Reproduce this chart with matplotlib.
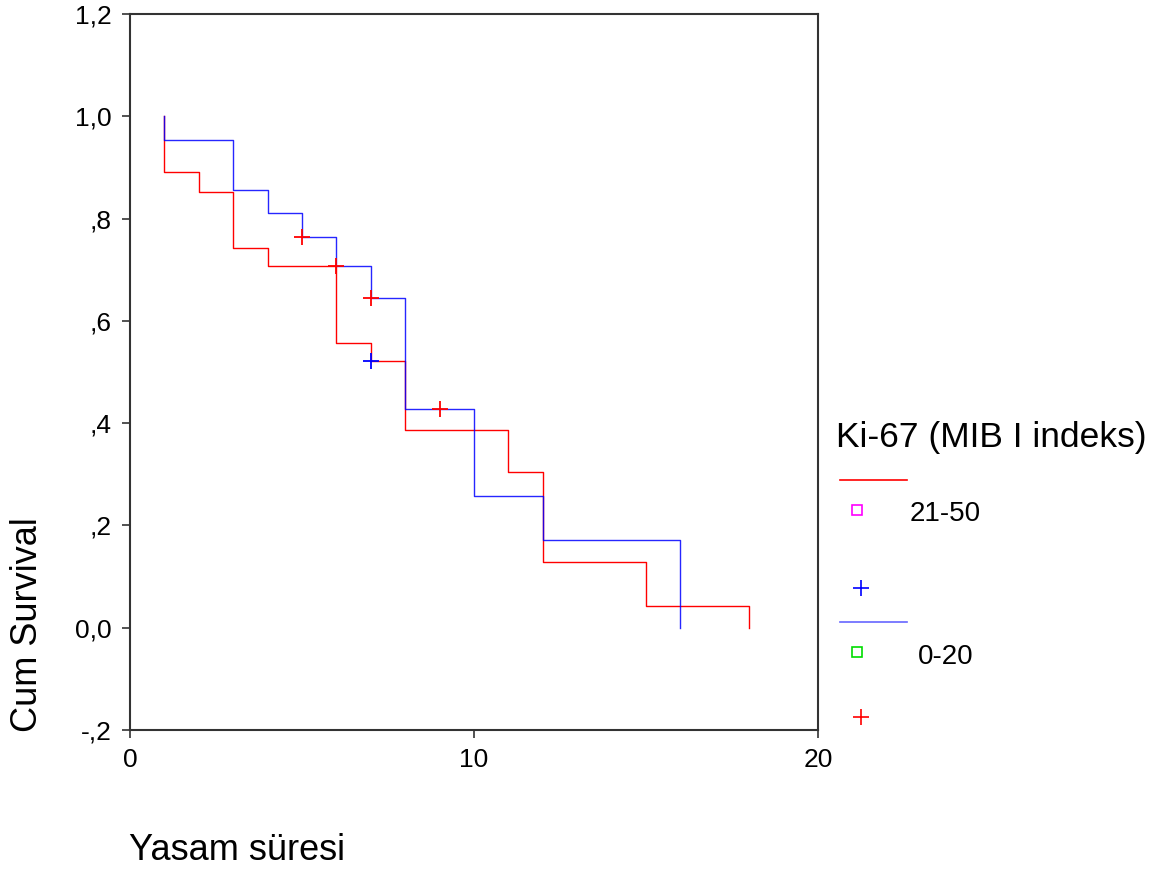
import matplotlib
matplotlib.use("Agg")
import matplotlib.pyplot as plt
from matplotlib.lines import Line2D

plt.rcParams['font.family'] = ['Liberation Sans', 'DejaVu Sans']

# Kaplan-Meier step data
t_hi = [1, 1, 2, 3, 4, 6, 7, 8, 11, 12, 15, 18]          # Ki-67 21-50
s_hi = [1.0, 0.892, 0.851, 0.743, 0.708, 0.557, 0.521, 0.386, 0.304, 0.128, 0.042, 0.0]
t_lo = [1, 1, 3, 4, 5, 6, 7, 8, 10, 12, 16]               # Ki-67 0-20
s_lo = [1.0, 0.953, 0.855, 0.810, 0.763, 0.708, 0.645, 0.427, 0.257, 0.171, 0.0]

# censored observations
cens_hi_t = [7]
cens_hi_s = [0.521]
cens_lo_t = [5, 6, 7, 9]
cens_lo_s = [0.763, 0.708, 0.645, 0.427]

xticks = [0, 10, 20]
yticks = [-0.2, 0.0, 0.2, 0.4, 0.6, 0.8, 1.0, 1.2]
ytick_labels = ['-,2', '0,0', ',2', ',4', ',6', ',8', '1,0', '1,2']

W, H = 1165, 876
fig = plt.figure(figsize=(W / 100, H / 100), dpi=100)
ax = fig.add_axes([130 / W, 1 - 730 / H, (818 - 130) / W, (730 - 14) / H])

ax.step(t_hi, s_hi, where='post', color='#ff0000', lw=1.0)
ax.step(t_lo, s_lo, where='post', color='#0000ff', lw=1.0, alpha=0.85)
ax.plot(cens_hi_t, cens_hi_s, ls='none', marker='+', ms=12, mew=1.3, color='#0000ff')
ax.plot(cens_lo_t, cens_lo_s, ls='none', marker='+', ms=12, mew=1.3, color='#ff0000')

ax.set_xlim(0, 20)
ax.set_ylim(-0.2, 1.2)
ax.set_xticks(xticks)
ax.set_yticks(yticks)
ax.set_yticklabels(ytick_labels)
ax.tick_params(axis='both', labelsize=19, color='#333333', length=6, width=1.2)
ax.tick_params(axis='y', pad=7)
ax.tick_params(axis='x', pad=7)
for sp in ax.spines.values():
    sp.set_color('#333333')
    sp.set_linewidth(1.5)

fig.text(28 / W, 1 - 625 / H, 'Cum Survival', rotation=90, fontsize=26,
         ha='center', va='center')
fig.text(129 / W, 1 - 850 / H, 'Yasam süresi', fontsize=26, ha='left', va='center')

# Legend (drawn manually)
def fx(px):
    return px / W

def fy(py):
    return 1 - py / H

fig.text(fx(836), fy(438), 'Ki-67 (MIB I indeks)', fontsize=25.5, ha='left', va='center')
fig.add_artist(Line2D([fx(840), fx(907)], [fy(480), fy(480)], color='#ff0000', lw=1.2))
fig.add_artist(Line2D([fx(857)], [fy(510)], marker='s', ms=7, mfc='none', mec='#ff00ff', mew=1.2, ls='none'))
fig.text(fx(910), fy(514), '21-50', fontsize=20, ha='left', va='center')
fig.add_artist(Line2D([fx(861)], [fy(588)], marker='+', ms=12, mec='#0000ff', mew=1.2, ls='none'))
fig.add_artist(Line2D([fx(840), fx(907)], [fy(622), fy(622)], color='#6666ff', lw=1.2))
fig.add_artist(Line2D([fx(857)], [fy(652)], marker='s', ms=7, mfc='none', mec='#00dd00', mew=1.2, ls='none'))
fig.text(fx(918), fy(657), '0-20', fontsize=20, ha='left', va='center')
fig.add_artist(Line2D([fx(861)], [fy(717)], marker='+', ms=12, mec='#ff0000', mew=1.2, ls='none'))

fig.savefig('out.png', dpi=100)
